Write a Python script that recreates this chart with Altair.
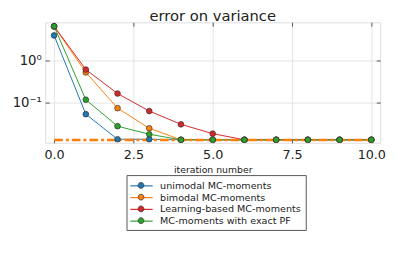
import altair as alt
import pandas as pd

iterations = [0, 1, 2, 3, 4, 5, 6, 7, 8, 9, 10]
series_names = ["unimodal MC-moments", "bimodal MC-moments",
                "Learning-based MC-moments", "MC-moments with exact PF"]
unimodal = [4.0, 0.054, 0.0137, 0.0137, 0.0133, 0.0133, 0.0133, 0.0133, 0.0133, 0.0133, 0.0133]
bimodal = [6.5, 0.53, 0.075, 0.025, 0.0133, 0.0133, 0.0133, 0.0133, 0.0133, 0.0133, 0.0133]
learning = [6.6, 0.62, 0.167, 0.064, 0.031, 0.0186, 0.0133, 0.0133, 0.0133, 0.0133, 0.0133]
exact_pf = [6.6, 0.119, 0.028, 0.018, 0.0133, 0.0133, 0.0133, 0.0133, 0.0133, 0.0133, 0.0133]
floor_x = [0, 10]
floor_y = [0.0132, 0.0132]
x_ticks = [0, 2.5, 5, 7.5, 10]
y_ticks = [0.1, 1]
colors = ["#1f77b4", "#ff7f0e", "#d62728", "#2ca02c"]

marker_names = [n + " " for n in series_names]
rows = []
for name, mname, vals in zip(series_names, marker_names, [unimodal, bimodal, learning, exact_pf]):
    for it, v in zip(iterations, vals):
        rows.append({"iteration": it, "error": v, "series": name, "series2": mname})
df = pd.DataFrame(rows)
floor_df = pd.DataFrame({"iteration": floor_x, "error": floor_y})

FONT = "DejaVu Sans"
TICK = "#555"
xscale = alt.Scale(domain=[-0.28, 10.28], nice=False, zero=False)
yscale = alt.Scale(type="log", domain=[0.0113, 8.2], nice=False)

x_enc = alt.X("iteration:Q", scale=xscale,
              axis=alt.Axis(title="iteration number", values=x_ticks, format=".1f",
                            labelFontSize=13, titleFontSize=9.5, labelPadding=6, titlePadding=3,
                            ticks=True, tickSize=4, offset=-4, tickColor=TICK, tickWidth=1,
                            domain=False, gridColor="#e4e4e4",
                            labelColor="#222", titleColor="#222", titleFontWeight="normal",
                            labelFont=FONT, titleFont=FONT))
y_enc = alt.Y("error:Q", scale=yscale,
              axis=alt.Axis(title=None, values=y_ticks,
                            labelExpr="datum.value >= 0.5 ? '10⁰' : '10⁻¹'",
                            labelFontSize=13.5, labelPadding=4,
                            ticks=True, tickSize=4, offset=-4, tickColor=TICK, tickWidth=1,
                            domain=False, gridColor="#e4e4e4", labelColor="#222", labelFont=FONT))

common_legend = dict(title=None, orient="none", legendX=83, legendY=156,
                     symbolSize=144, symbolOffset=4.3, labelOffset=12,
                     labelFontSize=9.8, labelFont=FONT, rowPadding=0, padding=4,
                     labelLimit=300)

lines = alt.Chart(df).mark_line(strokeWidth=1, clip=True).encode(
    x=x_enc, y=y_enc,
    stroke=alt.Stroke("series:N", scale=alt.Scale(domain=series_names, range=colors),
                      legend=alt.Legend(symbolType="M-1.9,0L1.9,0", symbolStrokeWidth=1.2,
                                        labelColor="#222", strokeColor="#555",
                                        fillColor="white", zindex=0, **common_legend)),
    detail="series:N",
)

floor = alt.Chart(floor_df).mark_line(color="#ff7f0e", strokeWidth=2.6,
                                      strokeDash=[9, 3, 3, 3]).encode(
    x=alt.X("iteration:Q", scale=xscale,
            axis=alt.Axis(orient="top", title=None, values=x_ticks, labels=False, grid=False,
                          domain=False, ticks=True, tickSize=4, offset=-4, tickColor=TICK)),
    y=alt.Y("error:Q", scale=yscale,
            axis=alt.Axis(orient="right", title=None, values=y_ticks, labels=False, grid=False,
                          domain=False, ticks=True, tickSize=4, offset=-4, tickColor=TICK)))

points = alt.Chart(df).mark_circle(size=34, stroke="#333", strokeWidth=0.7, opacity=1, clip=True).encode(
    x=alt.X("iteration:Q", scale=xscale, axis=None),
    y=alt.Y("error:Q", scale=yscale, axis=None),
    fill=alt.Fill("series2:N", scale=alt.Scale(domain=marker_names, range=colors),
                  legend=alt.Legend(symbolType="M0.5,0A0.5,0.5,0,1,1,-0.5,0A0.5,0.5,0,1,1,0.5,0Z",
                                    symbolStrokeColor="#333",
                                    symbolStrokeWidth=0.7, symbolOpacity=1, labelExpr="''",
                                    zindex=1, **common_legend)),
)

chart = alt.layer(lines, floor, points).resolve_axis(x="independent", y="independent").properties(
    width=342, height=123,
    title=alt.TitleParams("error on variance", fontSize=15, font=FONT, fontWeight="normal",
                          color="#222", offset=0, dy=2.5, anchor="middle", frame="group"),
    autosize=alt.AutoSizeParams(type="none"),
    padding={"left": 38, "top": 12, "right": 9, "bottom": 113},
).configure_view(stroke="#555", strokeWidth=1).configure(background="white")

chart.save("out.html", embed_options={"renderer": "svg", "actions": False})
